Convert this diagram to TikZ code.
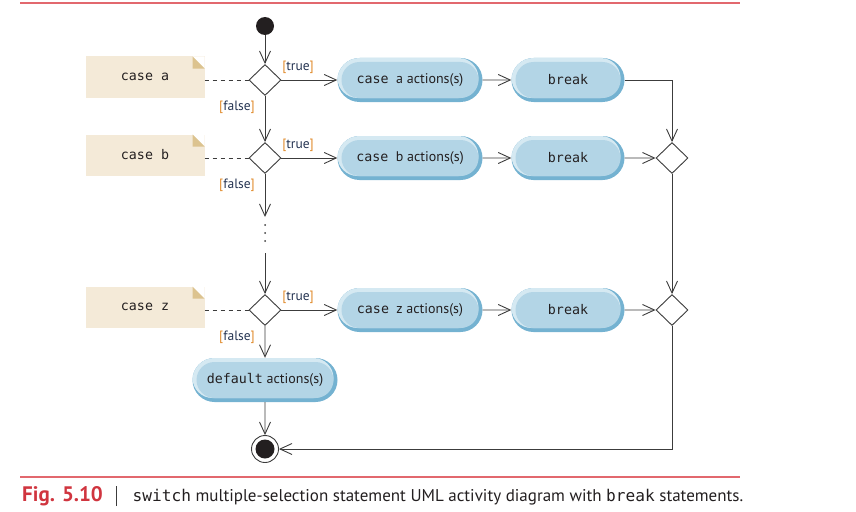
\documentclass[tikz,border=0pt]{standalone}
\usepackage{fontspec}
\setmainfont{PT Sans}
\setmonofont{DejaVu Sans Mono}[Scale=0.95]
\usetikzlibrary{arrows.meta,shapes.geometric,shapes.misc}

\definecolor{rulered}{HTML}{E2686E}
\definecolor{figred}{HTML}{D0353F}
\definecolor{linegray}{HTML}{3C3C3C}
\definecolor{textdark}{HTML}{231F20}
\definecolor{guardtext}{HTML}{253452}
\definecolor{guardbr}{HTML}{E08A2A}
\definecolor{actfill}{HTML}{B3D5E6}
\definecolor{actlight}{HTML}{D5E9F2}
\definecolor{actdark}{HTML}{74B2D1}
\definecolor{notefill}{HTML}{F4EAD8}
\definecolor{notefold}{HTML}{DCC38F}

\newcommand{\guard}[1]{{\color{guardbr}[}#1{\color{guardbr}]}}

\begin{document}
\begin{tikzpicture}
  [x=1pt,y=-1pt,>={Straight Barb[length=12pt,width=11pt]},
   every node/.style={text=textdark,font=\fontsize{14}{17}\selectfont}]
  \tikzstyle{flow} = [draw=linegray,line width=.9pt]
  \tikzstyle{decision} = [diamond,draw=linegray,line width=.9pt,fill=white,minimum width=32pt,minimum height=31pt,inner sep=0pt]
  \tikzstyle{note} = [rectangle,fill=notefill,minimum width=119pt,minimum height=41pt,
    path picture={
      \fill[white] ([xshift=-12pt]path picture bounding box.north east) -- (path picture bounding box.north east) -- ([yshift=-12pt]path picture bounding box.north east) -- cycle;
      \fill[notefold] ([xshift=-12pt]path picture bounding box.north east) -- ([xshift=-12pt,yshift=-12pt]path picture bounding box.north east) -- ([yshift=-12pt]path picture bounding box.north east) -- cycle;
    }]
  \tikzstyle{action} = [rounded rectangle,minimum height=44pt,inner sep=0pt,fill=actdark,
    path picture={
      \fill[actlight,rounded corners=20pt] ([shift={(0pt,4pt)}]path picture bounding box.south west) rectangle ([shift={(-4pt,0pt)}]path picture bounding box.north east);
      \fill[actfill,rounded corners=18pt] ([shift={(4pt,4pt)}]path picture bounding box.south west) rectangle ([shift={(-4pt,-4pt)}]path picture bounding box.north east);
    }]
  \tikzstyle{guard} = [font=\fontsize{13.5}{16}\selectfont,text=guardtext,inner sep=0pt]

  \useasboundingbox (0,0) rectangle (856,511);
  \draw[rulered,line width=1.1pt] (20,3) -- (740,3);
  \draw[rulered,line width=1.1pt] (20,477) -- (740,477);

  \node[circle,fill=textdark,minimum size=18pt,inner sep=0pt] (start) at (265,26) {};

  \foreach \opt/\y in {a/80,b/158,z/310} {
    \node[note] (n\opt) at (145,\y-3) {\texttt{case \opt}};
    \node[decision] (d\opt) at (265,\y) {};
    \node[action,minimum width=145pt] (act\opt) at (410,\y) {\texttt{case}\ \ \opt\ actions(s)};
    \node[action,minimum width=113pt] (brk\opt) at (568,\y) {\texttt{break}};
    \node[guard] (t\opt) at (298,\y-13) {\guard{true}};
    \node[guard] (f\opt) at (237,\y+27) {\guard{false}};
    \draw[flow,dash pattern=on 4pt off 4pt] (n\opt.east |- d\opt) -- (d\opt.west);
    \draw[flow,->] (d\opt.east) -- (act\opt);
    \draw[flow,->] (act\opt) -- (brk\opt);
  }

  % merges on the right
  \node[decision] (mb) at (672,158) {};
  \node[decision] (mz) at (672,310) {};
  \draw[flow,->] (brka.east) -| (mb.north);
  \draw[flow,->] (brkb) -- (mb.west);
  \draw[flow,->] (mb.south) -- (mz.north);
  \draw[flow,->] (brkz) -- (mz.west);

  % left spine
  \coordinate (gaptop) at (265,217);
  \coordinate (gapbot) at (265,253);
  \draw[flow,->] (start) -- (da.north);
  \draw[flow,->] (da.south) -- (db.north);
  \draw[flow,->] (db.south) -- (gaptop);
  \foreach \yy in {225,233,241}
    \fill[linegray] (265,\yy) circle (1pt);
  \draw[flow,->] (gapbot) -- (dz.north);

  \node[action,minimum width=145pt] (dflt) at (265,380) {\texttt{default} actions(s)};
  \node[circle,draw=linegray,line width=.9pt,fill=white,minimum size=27pt,inner sep=0pt,
    path picture={\fill[textdark] (path picture bounding box.center) circle (9.5pt);}] (final) at (265,449) {};
  \draw[flow,->] (dz.south) -- (dflt);
  \draw[flow,->] (dflt) -- (final);
  \draw[flow,->] (mz.south) |- (final.east);

  \node[anchor=west,inner sep=0pt,font=\fontsize{17}{20}\selectfont] (caption) at (22,496)
    {{\color{figred}\fontsize{21}{24}\selectfont\bfseries Fig. 5.10}\hspace{13pt}{\color{linegray}\rule[-5pt]{0.8pt}{20pt}}\hspace{16pt}\texttt{switch} multiple-selection statement UML activity diagram with \texttt{break} statements.};
\end{tikzpicture}
\end{document}
